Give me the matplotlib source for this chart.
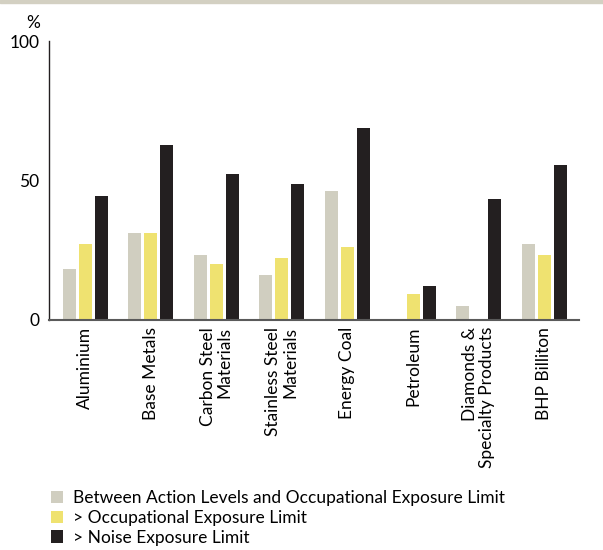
import matplotlib
matplotlib.use("Agg")
import matplotlib.pyplot as plt
from matplotlib.patches import Patch, Rectangle
import numpy as np

plt.rcParams['font.family'] = ['Lato', 'DejaVu Sans']

categories = ["Aluminium", "Base Metals", "Carbon Steel\nMaterials", "Stainless Steel\nMaterials",
              "Energy Coal", "Petroleum", "Diamonds &\nSpecialty Products", "BHP Billiton"]
between_action = [18.3, 31.3, 23.4, 16.2, 46.4, 0, 5.0, 27.3]
above_oel = [27.3, 31.3, 20.1, 22.3, 26.3, 9.4, 0, 23.4]
above_nel = [44.6, 62.6, 52.5, 48.6, 68.7, 12.2, 43.5, 55.4]
series_names = ["Between Action Levels and Occupational Exposure Limit",
                "> Occupational Exposure Limit",
                "> Noise Exposure Limit"]
colors = ["#D0CEC0", "#EFE270", "#231F20"]
yticks = [0, 50, 100]

FS = 12.5

fig = plt.figure(figsize=(6.03, 5.5), dpi=100)
ax = fig.add_axes([49/603, 1-320/550, (579-49)/603, (320-41)/550])

x = np.arange(len(categories))
w = 0.198
step = 0.244
for k, (vals, c) in enumerate(zip([between_action, above_oel, above_nel], colors)):
    ax.bar(x + (k-1)*step, vals, width=w, color=c, linewidth=0, zorder=2)

ax.set_xlim(-0.549, 7.53)
ax.set_ylim(0, 100)
ax.set_yticks(yticks)
ax.set_yticklabels([str(v) for v in yticks], fontsize=FS)
ax.set_xticks(x)
ax.set_xticklabels(categories, rotation=90, fontsize=FS, ha='center', va='top',
                   multialignment='right', linespacing=1.05)
ax.tick_params(axis='both', length=0)
ax.tick_params(axis='y', pad=7)
ax.tick_params(axis='x', pad=5)
for s in ['top', 'right']:
    ax.spines[s].set_visible(False)
ax.spines['left'].set_color('#231F20')
ax.spines['left'].set_linewidth(1.0)
ax.spines['bottom'].set_color('#5a5a5a')
ax.spines['bottom'].set_linewidth(1.5)
ax.spines['bottom'].set_zorder(3)

fig.text(33/603, 1-22.5/550, "%", fontsize=FS, ha='center', va='center')

# top border band
fig.patches.append(Rectangle((0, 1-3/550), 1, 3/550, transform=fig.transFigure,
                             color="#D3D0C2", zorder=0))

handles = [Patch(facecolor=c, edgecolor='none') for c in colors]
fig.legend(handles, series_names, loc='upper left', bbox_to_anchor=(51/603, 1-490/550),
           frameon=False, fontsize=FS, handlelength=0.7, handleheight=0.7,
           handletextpad=0.57, labelspacing=0.22, borderaxespad=0, borderpad=0)

fig.savefig("out.png", dpi=100)
